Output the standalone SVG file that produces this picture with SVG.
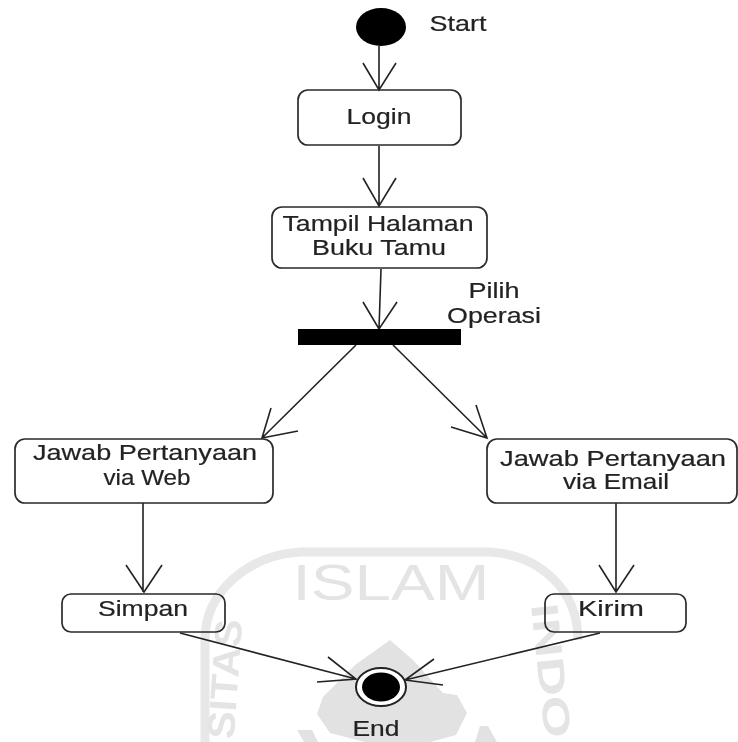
<svg xmlns="http://www.w3.org/2000/svg" width="738" height="742" viewBox="0 0 738 742">
<defs><filter id="soft" x="-2%" y="-2%" width="104%" height="104%"><feGaussianBlur stdDeviation="0.45"/></filter></defs>
<style>
.n{fill:none;stroke:#2a2a2a;stroke-width:1.7}
.c path{fill:none;stroke:#222;stroke-width:1.6}
text{font-family:"Liberation Sans",Arial,sans-serif;font-size:22px;fill:#222;stroke:#222;stroke-width:.2;text-anchor:middle}
text.w{fill:#e4e4e4;stroke:none;font-weight:700}
</style>
<rect width="738" height="742" fill="#fff"/>
<g filter="url(#soft)">
<g id="watermark">
<path d="M205 742V640C205 590 250 555 300 552L490 552C540 555 578 590 578 640" fill="none" stroke="#e8e8e8" stroke-width="9"/>
<text class="w" x="391" y="600" textLength="197" lengthAdjust="spacingAndGlyphs" style="font-size:50px;font-weight:400">ISLAM</text>
<text class="w" transform="translate(238 680) rotate(-86)" textLength="120" lengthAdjust="spacingAndGlyphs" style="font-size:38px">SITAS</text>
<text class="w" transform="translate(538 672) rotate(84)" textLength="135" lengthAdjust="spacingAndGlyphs" style="font-size:38px">INDO</text>
<path d="M390 640L355 665L323 697L317 714L330 733L365 742H430L456 735L467 713L457 695L443 693L413 660Z" fill="#e2e2e2"/>
<path d="M297 730L304 742H318L312 730ZM480 726L475 742H497L488 726Z" fill="#e2e2e2"/>
</g>
<g class="c" id="connectors">
<path d="M379 46V90M363 63L379 90L396 63"/>
<path d="M379 146V206M363 178L379 206L396 178"/>
<path d="M381 269L379 329M363 302L379 329L397 302"/>
<path d="M356 345L262 438M271 408L262 438L298 431"/>
<path d="M393 345L487 438M451 427L487 438L476 405"/>
<path d="M143 503V592M126 565L144 592L162 565"/>
<path d="M616 503V592M599 565L616 592L634 565"/>
<path d="M180 633L356 679M328 657L356 679L317 682"/>
<path d="M600 633L405 680M434 659L405 680L443 685"/>
</g>
<g id="start"><ellipse cx="381" cy="27" rx="25" ry="19" fill="#000"/><text x="458" y="31" textLength="57" lengthAdjust="spacingAndGlyphs">Start</text></g>
<g id="login"><rect class="n" x="298" y="90" width="163" height="55" rx="10"/><text x="379" y="124" textLength="65" lengthAdjust="spacingAndGlyphs">Login</text></g>
<g id="tampil"><rect class="n" x="272" y="207" width="215" height="61" rx="10"/><text x="378" y="231" textLength="191" lengthAdjust="spacingAndGlyphs">Tampil Halaman</text><text x="379" y="255" textLength="134" lengthAdjust="spacingAndGlyphs">Buku Tamu</text></g>
<g id="fork"><rect x="298" y="329" width="163" height="16" fill="#000"/><text x="494" y="298" textLength="51" lengthAdjust="spacingAndGlyphs">Pilih</text><text x="494" y="323" textLength="94" lengthAdjust="spacingAndGlyphs">Operasi</text></g>
<g id="web"><rect class="n" x="15" y="439" width="258" height="64" rx="10"/><text x="145" y="460" textLength="224" lengthAdjust="spacingAndGlyphs">Jawab Pertanyaan</text><text x="147" y="485" textLength="87" lengthAdjust="spacingAndGlyphs">via Web</text></g>
<g id="email"><rect class="n" x="487" y="439" width="250" height="64" rx="10"/><text x="613" y="466" textLength="226" lengthAdjust="spacingAndGlyphs">Jawab Pertanyaan</text><text x="616" y="489" textLength="106" lengthAdjust="spacingAndGlyphs">via Email</text></g>
<g id="simpan"><rect class="n" x="62" y="594" width="163" height="38" rx="9"/><text x="143" y="616" textLength="90" lengthAdjust="spacingAndGlyphs">Simpan</text></g>
<g id="kirim"><rect class="n" x="545" y="594" width="141" height="38" rx="9"/><text x="611" y="616" textLength="66" lengthAdjust="spacingAndGlyphs">Kirim</text></g>
<g id="end"><ellipse cx="381" cy="687" rx="25" ry="19" fill="#fff" stroke="#222" stroke-width="2"/><ellipse cx="381" cy="687" rx="19" ry="14.5" fill="#000"/><text x="376" y="736" textLength="47" lengthAdjust="spacingAndGlyphs">End</text></g>
</g>
</svg>
